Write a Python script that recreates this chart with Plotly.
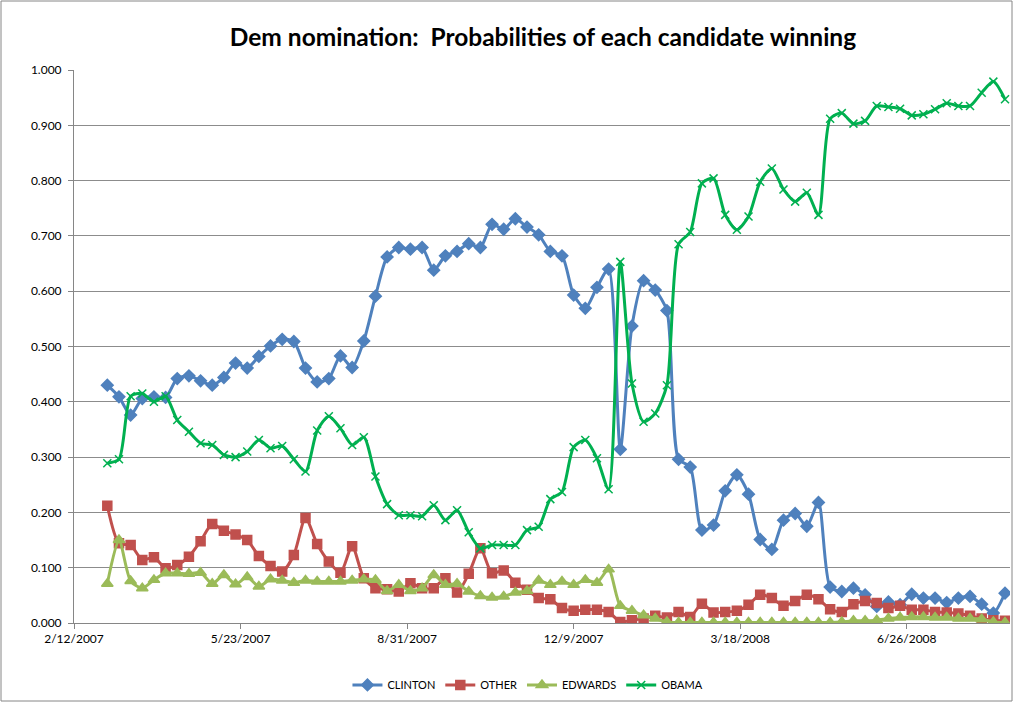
import pandas as pd
import plotly.graph_objects as go

# Weekly readings, first week of March 2007 through late August 2008
week_start = "2007-03-04"
n_weeks = 78
dates = pd.date_range(week_start, periods=n_weeks, freq="7D")

clinton = [
    0.430, 0.409, 0.376, 0.406, 0.409, 0.408, 0.442, 0.447, 0.438, 0.430,
    0.444, 0.470, 0.461, 0.482, 0.501, 0.513, 0.509, 0.461, 0.436, 0.442,
    0.483, 0.462, 0.510, 0.591, 0.662, 0.679, 0.676, 0.679, 0.638, 0.664,
    0.672, 0.686, 0.679, 0.721, 0.712, 0.731, 0.716, 0.702, 0.672, 0.664,
    0.593, 0.569, 0.607, 0.640, 0.314, 0.537, 0.619, 0.602, 0.565, 0.296,
    0.282, 0.168, 0.177, 0.239, 0.268, 0.233, 0.151, 0.133, 0.186, 0.198,
    0.175, 0.218, 0.065, 0.057, 0.063, 0.051, 0.030, 0.038, 0.033, 0.052,
    0.045, 0.045, 0.037, 0.045, 0.048, 0.034, 0.018, 0.054,
]

other = [
    0.212, 0.144, 0.141, 0.114, 0.119, 0.099, 0.105, 0.120, 0.148, 0.179,
    0.167, 0.160, 0.150, 0.121, 0.103, 0.093, 0.123, 0.190, 0.143, 0.111,
    0.091, 0.139, 0.081, 0.063, 0.061, 0.057, 0.072, 0.063, 0.063, 0.081,
    0.055, 0.089, 0.135, 0.090, 0.095, 0.073, 0.060, 0.045, 0.043, 0.027,
    0.022, 0.024, 0.024, 0.020, 0.002, 0.005, 0.008, 0.013, 0.010, 0.020,
    0.011, 0.035, 0.019, 0.020, 0.022, 0.033, 0.051, 0.045, 0.031, 0.040,
    0.051, 0.043, 0.025, 0.020, 0.034, 0.040, 0.036, 0.027, 0.031, 0.024,
    0.024, 0.020, 0.019, 0.017, 0.013, 0.008, 0.005, 0.004,
]

edwards = [
    0.071, 0.150, 0.076, 0.063, 0.078, 0.090, 0.090, 0.089, 0.091, 0.071,
    0.087, 0.070, 0.083, 0.066, 0.079, 0.077, 0.073, 0.077, 0.075, 0.075,
    0.075, 0.077, 0.079, 0.078, 0.058, 0.069, 0.058, 0.063, 0.087, 0.069,
    0.071, 0.057, 0.049, 0.046, 0.048, 0.055, 0.058, 0.077, 0.069, 0.075,
    0.069, 0.078, 0.073, 0.097, 0.031, 0.022, 0.014, 0.008, 0.002, 0.001,
    0.001, 0.001, 0.001, 0.001, 0.001, 0.001, 0.001, 0.001, 0.001, 0.001,
    0.001, 0.001, 0.001, 0.002, 0.004, 0.004, 0.005, 0.008, 0.010, 0.011,
    0.011, 0.010, 0.010, 0.008, 0.008, 0.007, 0.002, 0.001,
]

obama = [
    0.289, 0.296, 0.410, 0.415, 0.400, 0.410, 0.367, 0.346, 0.325, 0.322,
    0.304, 0.300, 0.310, 0.331, 0.316, 0.320, 0.296, 0.274, 0.348, 0.374,
    0.352, 0.322, 0.336, 0.265, 0.215, 0.195, 0.195, 0.193, 0.213, 0.186,
    0.204, 0.164, 0.135, 0.141, 0.141, 0.141, 0.168, 0.174, 0.224, 0.237,
    0.318, 0.331, 0.298, 0.242, 0.653, 0.433, 0.364, 0.379, 0.430, 0.685,
    0.707, 0.795, 0.804, 0.738, 0.711, 0.735, 0.798, 0.822, 0.784, 0.762,
    0.778, 0.738, 0.912, 0.922, 0.903, 0.908, 0.935, 0.933, 0.930, 0.918,
    0.920, 0.929, 0.940, 0.935, 0.935, 0.959, 0.979, 0.947,
]

series = [
    ("CLINTON", clinton, "#4F81BD", "diamond", 9),
    ("OTHER", other, "#C0504D", "square", 9),
    ("EDWARDS", edwards, "#9BBB59", "triangle-up", 10),
    ("OBAMA", obama, "#00B050", "x-thin-open", 8),
]

FONT = "Lato, Carlito, Calibri, sans-serif"

fig = go.Figure()
for name, vals, color, symbol, size in series:
    fig.add_trace(go.Scatter(
        x=dates, y=vals, name=name, mode="lines+markers",
        line=dict(color=color, width=3, shape="spline", smoothing=0.7),
        marker=dict(symbol=symbol, size=size, color=color,
                    line=dict(color=color, width=1.5)),
    ))

W, H = 1013, 702
ML, MR, MT, MB = 74, 3, 70, 79

fig.update_layout(
    width=W, height=H,
    margin=dict(l=ML, r=MR, t=MT, b=MB),
    paper_bgcolor="white", plot_bgcolor="white",
    font=dict(family=FONT, size=12, color="black"),
    title=dict(text="<b>Dem nomination:  Probabilities of each candidate winning</b>",
               x=0.536, xanchor="center", y=0.947, yanchor="middle",
               font=dict(family=FONT, size=24.5, color="black")),
    showlegend=True,
    legend=dict(orientation="h", x=0.485, xanchor="center", y=-0.112,
                yanchor="middle", font=dict(size=11), itemwidth=30,
                bgcolor="rgba(0,0,0,0)"),
    xaxis=dict(
        type="date", range=["2007-02-12", "2008-08-27"],
        tickmode="linear", tick0="2007-02-12", dtick=100 * 86400000,
        tickformat="%-m/%-d/%Y", ticks="outside", ticklen=5,
        tickcolor="#868686", showline=True, linecolor="#868686",
        linewidth=1, showgrid=False, zeroline=False,
        tickfont=dict(size=12),
    ),
    yaxis=dict(
        range=[0, 1], tickmode="linear", tick0=0, dtick=0.1,
        tickformat=".3f", ticks="outside", ticklen=5, tickcolor="#868686",
        showline=True, linecolor="#868686", linewidth=1,
        showgrid=True, gridcolor="#8c8c8c", gridwidth=1, zeroline=False,
        tickfont=dict(size=12), ticklabelstandoff=4,
    ),
    shapes=[dict(
        type="rect", xref="paper", yref="paper",
        x0=-(ML - 1) / (W - ML - MR), x1=1 + (MR - 1) / (W - ML - MR),
        y0=-(MB - 1) / (H - MT - MB), y1=1 + (MT - 1) / (H - MT - MB),
        line=dict(color="#868686", width=1),
    )],
)

fig.write_html("out.html")
